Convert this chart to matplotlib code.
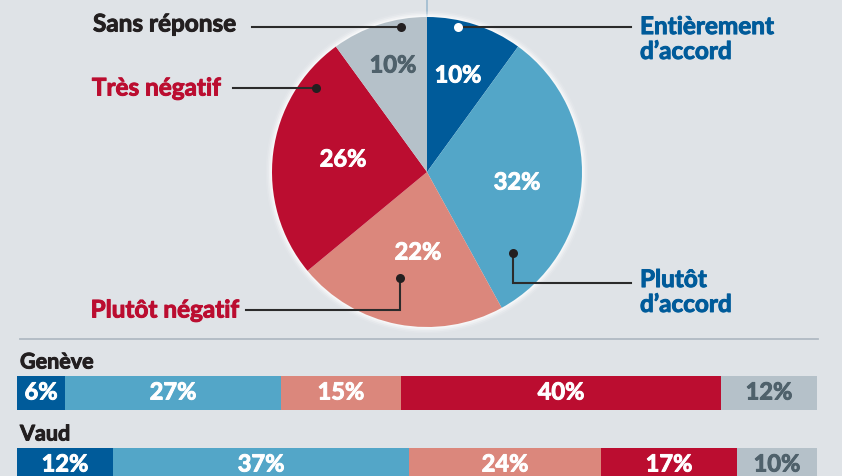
import matplotlib
matplotlib.use("Agg")
import matplotlib.pyplot as plt
from matplotlib.patches import Circle
import matplotlib.patheffects as pe

# ---------------- data ----------------
categories = ["Entièrement\nd’accord", "Plutôt\nd’accord", "Plutôt négatif", "Très négatif", "Sans réponse"]
pie_values = [10, 32, 22, 26, 10]
regions = ["Genève", "Vaud"]
geneve_values = [6, 27, 15, 40, 12]
vaud_values = [12, 37, 24, 17, 10]

colors = ["#005b9a", "#53a6c8", "#db877c", "#bb0d30", "#b5c1c9"]
label_colors = ["#005b9a", "#005b9a", "#bb0d30", "#bb0d30", "#231f20"]
pct_colors = ["white", "white", "white", "white", "#4f616b"]
BG = "#dfe3e7"

W, H = 842, 477
plt.rcParams['font.family'] = ['Lato', 'DejaVu Sans']

fig = plt.figure(figsize=(W / 100, H / 100), dpi=100, facecolor=BG)
ax = fig.add_axes([0, 0, 1, 1])
ax.set_facecolor(BG)

def Y(py):
    return H - py

def thick(c, w=0.7):
    return [pe.withStroke(linewidth=w, foreground=c)]

cx, cy, R = 427, Y(173), 155

# top vertical rule
ax.plot([cx, cx], [Y(0), cy + R], color="#9dbbd0", lw=1.2, zorder=1)

# soft white halo
for i, a in enumerate([0.55, 0.35, 0.2, 0.1]):
    ax.add_patch(Circle((cx, cy), R + 1.5 + i * 1.6, facecolor="white", alpha=a,
                        edgecolor="none", zorder=1))

wedges, _ = ax.pie(pie_values, colors=colors, startangle=90, counterclock=False,
                   center=(cx, cy), radius=R, frame=True,
                   wedgeprops=dict(linewidth=0, zorder=2))

# percentage labels inside pie
pct_pos = [(458, 76), (517, 183), (418, 253), (343, 160), (393, 66)]
for v, (px, py), c in zip(pie_values, pct_pos, pct_colors):
    ax.text(px, Y(py), f"{v}%", color=c, fontsize=17, fontweight="bold",
            ha="center", va="center", zorder=5, path_effects=thick(c))

lc = "#231f20"
# leader lines: list of polyline points (pixel coords), dot at first point
leaders = [
    [(458, 28), (631, 28)],
    [(513, 254), (513, 284), (631, 284)],
    [(400, 279), (400, 311), (246, 311)],
    [(316, 89), (233, 89)],
    [(401, 28), (252, 28)],
]
dot_colors = ["white", lc, lc, lc, lc]
for pts, dc in zip(leaders, dot_colors):
    xs = [p[0] for p in pts]
    ys = [Y(p[1]) for p in pts]
    ax.plot(xs, ys, color="#2b2b2b", lw=1.5, zorder=4, solid_joinstyle="miter")
    ax.plot(xs[0], ys[0], "o", color=dc, ms=6.5, mec="none", zorder=6)

# category labels
label_pos = [(640, 40, "left"), (640, 293, "left"), (239, 311, "right"),
             (221, 89, "right"), (236, 25, "right")]
for txt, (px, py, ha), c in zip(categories, label_pos, label_colors):
    ax.text(px, Y(py), txt, color=c, fontsize=17.5, fontweight="bold",
            ha=ha, va="center", linespacing=1.1, zorder=5, path_effects=thick(c))

# separator line
ax.plot([20, 818], [Y(340), Y(340)], color="#b0bac3", lw=1.3, zorder=1)

ax.set_xlim(0, W)
ax.set_ylim(0, H)
ax.set_aspect("auto")
ax.axis("off")

# ---------------- stacked bars ----------------
bx0, bx1 = 17, 817
bax = fig.add_axes([bx0 / W, 0, (bx1 - bx0) / W, (H - 340) / H])
bax.set_xlim(0, 100)
bax.set_ylim(H, 340)  # pixel y, inverted
bax.axis("off")

bar_rows = [(geneve_values, 394), (vaud_values, 466)]
label_rows = [363, 435]
for (vals, yc), name, ly in zip(bar_rows, regions, label_rows):
    left = 0
    for v, c, tc in zip(vals, colors, pct_colors):
        bax.barh(yc, v, left=left, height=34, color=c, linewidth=0)
        bax.text(left + v / 2, yc - 1, f"{v}%", color=tc, fontsize=17,
                 fontweight="bold", ha="center", va="center", path_effects=thick(tc))
        left += v
    ax.text(20, Y(ly), name, color="#231f20", fontsize=15.5, fontweight="bold",
            ha="left", va="center", path_effects=thick("#231f20"))

fig.savefig("out.png", dpi=100, facecolor=BG)
